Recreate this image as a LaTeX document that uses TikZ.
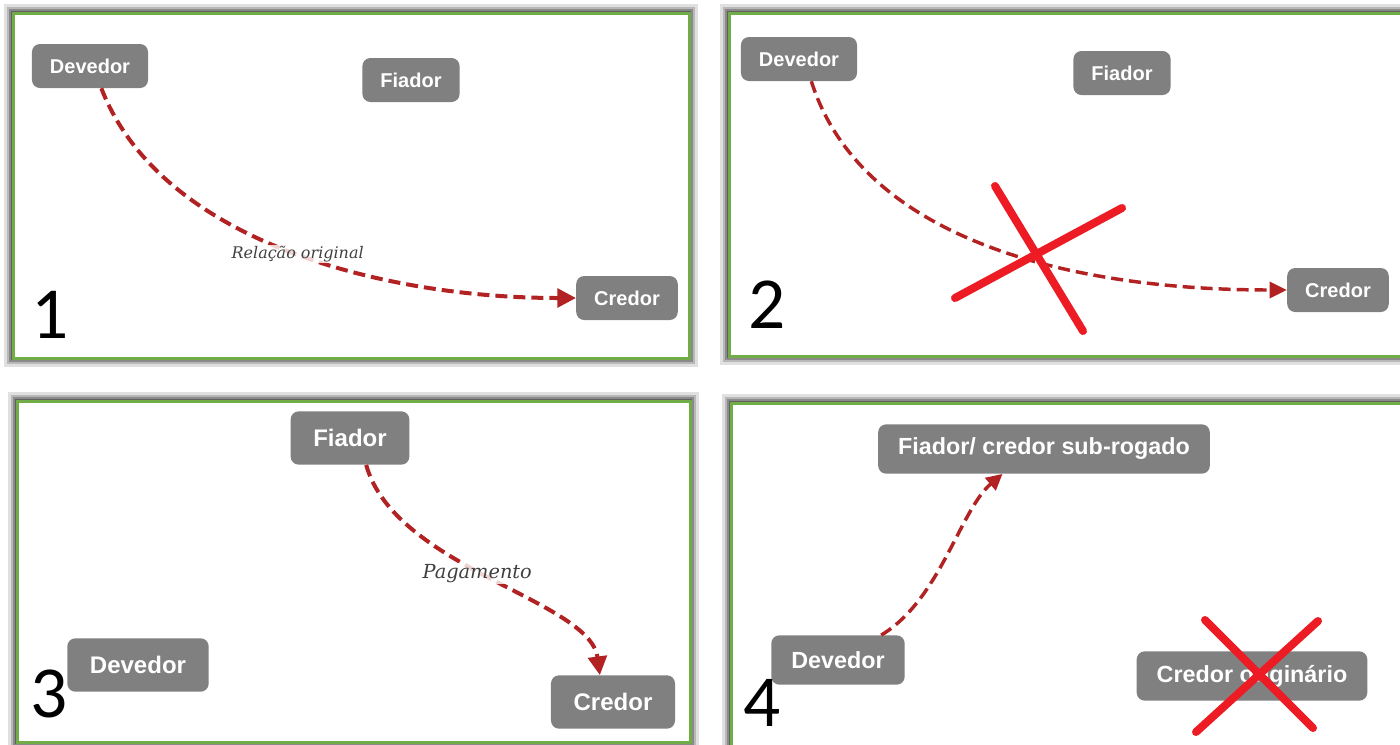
\documentclass[tikz,border=0pt]{standalone}
\usepackage{fontspec}
\setsansfont{Liberation Sans}
\newfontfamily\tagfont{DejaVu Serif}
\newfontfamily\numfont{Carlito}
\usetikzlibrary{arrows.meta}

\definecolor{boxgray}{RGB}{128,128,128}
\definecolor{framegreen}{RGB}{112,173,71}
\definecolor{linkred}{RGB}{178,34,34}
\definecolor{crossred}{RGB}{237,28,36}

\tikzset{
  party/.style={rounded corners=6pt, fill=boxgray, text=white, inner ysep=0pt},
  partyA/.style={party, font=\sffamily\bfseries\fontsize{15}{15}\selectfont, minimum height=33pt, inner xsep=13.5pt},
  partyB/.style={party, font=\sffamily\bfseries\fontsize{18}{18}\selectfont, minimum height=40pt, inner xsep=17pt},
  partyC/.style={party, font=\sffamily\bfseries\fontsize{17.5}{17.5}\selectfont, minimum height=37pt, inner xsep=15pt},
  link/.style={linkred, line width=3pt, dash pattern=on 9pt off 4.5pt, -{Triangle[length=14pt,width=14pt]}},
  cross/.style={crossred, line width=6pt, line cap=round},
  tag/.style={text=black!75, fill=white, fill opacity=.8, text opacity=1, inner sep=1pt},
  num/.style={font=\numfont\fontsize{55}{55}\selectfont, anchor=base, inner sep=0pt, text depth=0pt},
}

\begin{document}
\begin{tikzpicture}[x=0.75pt,y=-0.75pt]
  \useasboundingbox (0,0) rectangle (1400,744);
  \clip (0,0) rectangle (1400,744);

  % frames with a soft grey shadow
  \foreach \a/\b/\c/\d in {13/13/689/358, 729/13/1430/356, 17/401/690/742, 731/403/1430/770} {
    \foreach \w/\o in {13/.12, 9.5/.18, 6.5/.25, 3.5/.3}
      \draw[black, line width=\w pt, opacity=\o] (\a,\b) rectangle (\c,\d);
    \fill[white] (\a,\b) rectangle (\c,\d);
    \draw[framegreen, line width=2.25pt] (\a,\b) rectangle (\c,\d);
  }

  % 1
  \node[partyA] (dev1) at (90,66) {Devedor};
  \node[partyA] (fia1) at (411,80) {Fiador};
  \node[partyA] (cre1) at (627,298) {Credor};
  \draw[link] (dev1.-63) .. controls (160,240) and (380,298) .. (cre1.west)
    node[tag, pos=.52, font=\tagfont\itshape\fontsize{12}{12}\selectfont] {Relação original};
  \node[num] (n1) at (50,338) {1};

  % 2
  \node[partyA] (dev2) at (799,59) {Devedor};
  \node[partyA] (fia2) at (1122,73) {Fiador};
  \node[partyA] (cre2) at (1338,290) {Credor};
  \draw[link, line width=2.6pt, -{Triangle[length=13pt,width=12pt]}]
    (dev2.-61) .. controls (860,235) and (1060,290) .. (cre2.west);
  \draw[cross] (955,298) -- (1122,208);
  \draw[cross] (995,186) -- (1083,331);
  \node[num] (n2) at (767,328) {2};

  % 3
  \node[partyB] (fia3) at (350,438) {Fiador};
  \node[partyB] (dev3) at (138,665) {Devedor};
  \node[partyB] (cre3) at (613,702) {Credor};
  \draw[link] (fia3.-59) .. controls (395,568) and (590,600) .. (cre3.116)
    node[tag, pos=.46, font=\tagfont\itshape\fontsize{14.5}{14.5}\selectfont] {Pagamento};
  \node[num] (n3) at (49,717) {3};

  % 4
  \node[partyC] (sub4) at (1044,449) {Fiador/ credor sub-rogado};
  \node[partyC] (dev4) at (838,660) {Devedor};
  \node[partyC] (ori4) at (1252,676) {Credor originário};
  \draw[link, line width=2.6pt, -{Triangle[length=12pt,width=12pt]}]
    (dev4.30) .. controls (940,600) and (960,510) .. (sub4.-149);
  \draw[cross] (1205,620) -- (1313,728);
  \draw[cross] (1318,621) -- (1196,732);
  \node[num] (n4) at (762,726) {4};
\end{tikzpicture}
\end{document}
